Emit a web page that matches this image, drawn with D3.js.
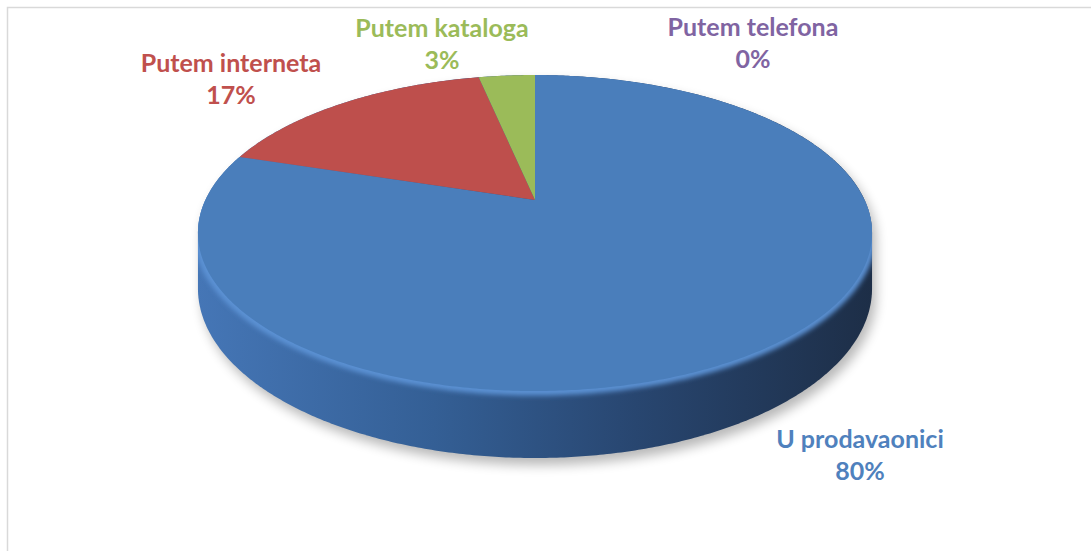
<!DOCTYPE html>
<html><head><meta charset="utf-8">
<script src="https://cdn.jsdelivr.net/npm/d3@7"></script>
<style>body{margin:0;background:#fff}svg{display:block}</style>
</head><body>
<svg id="chart" width="1091" height="551"></svg>
<script>
// ---- data ----
const categories = ["U prodavaonici", "Putem interneta", "Putem kataloga", "Putem telefona"];
const values = [79.9, 16.8, 3.3, 0];
const sliceColors = ["#4a7ebb", "#be4f4c", "#9bbb59", "#8064a2"];
const labelColors = ["#4f81bd", "#c0504d", "#9bbb59", "#8064a2"];

// ---- layout ----
const W = 1091, H = 551;
const labelAnchors = [[860, 448], [231, 72], [442, 37], [753, 36]];
const lineGap = 32;

const svg = d3.select("#chart");
const defs = svg.append("defs");

svg.append("rect").attr("x", 7.5).attr("y", 7.5).attr("width", W + 20).attr("height", H + 20)
  .attr("fill", "#fff").attr("stroke", "#d9d9d9").attr("stroke-width", 1.5);

const cx = 535, cy = 200, ax = 329.6, by = 151.1, k = 0.209, depth = 53;
function proj(angle, drop = 0) {
  const u = Math.sin(angle), v = -Math.cos(angle);
  const s = 1 / (1 - k * v);
  return [cx + ax * u * s, cy + (by * v + drop) * s];
}

const data = categories.map((c, i) => ({ name: c, v: values[i], color: sliceColors[i], lc: labelColors[i] }));
const total = d3.sum(values);
const arcs = d3.pie().sort(null).value(d => d.v)(data);

// filters
const fShadow = defs.append("filter").attr("id", "shadow").attr("x", "-20%").attr("y", "-20%").attr("width", "140%").attr("height", "150%");
fShadow.append("feGaussianBlur").attr("stdDeviation", 6);
const fBevel = defs.append("filter").attr("id", "bevel").attr("x", "-10%").attr("y", "-10%").attr("width", "120%").attr("height", "130%");
fBevel.append("feGaussianBlur").attr("stdDeviation", 2.5);

const grad = defs.append("linearGradient").attr("id", "sideGrad").attr("gradientUnits", "userSpaceOnUse")
  .attr("x1", 198).attr("x2", 872).attr("y1", 0).attr("y2", 0);
[["0%", "#4576b6"], ["35%", "#345f95"], ["65%", "#284670"], ["100%", "#1d2e47"]].forEach(([o, c]) =>
  grad.append("stop").attr("offset", o).attr("stop-color", c));

// silhouette (hull of top and bottom rims)
const rim = [];
for (let i = 0; i < 720; i++) {
  const a = i / 720 * 2 * Math.PI;
  rim.push(proj(a, 0)); rim.push(proj(a, depth));
}
const hull = d3.polygonHull(rim);
const line = d3.line();
const hullD = line(hull) + "Z";

defs.append("clipPath").attr("id", "hullClip").append("path").attr("d", hullD);

svg.append("path").attr("d", hullD)
  .attr("transform", "translate(4,7)")
  .attr("fill", "#000").attr("opacity", 0.28).attr("filter", "url(#shadow)");

svg.append("path").attr("d", hullD).attr("fill", "url(#sideGrad)");

// bevel light along near rim
const nearRim = d3.range(0, 361).map(i => proj(Math.PI * 0.5 + i / 360 * Math.PI, 0));
svg.append("g").attr("clip-path", "url(#hullClip)")
  .append("path").attr("d", line(nearRim)).attr("fill", "none")
  .attr("stroke", "#5b92d4").attr("stroke-width", 9).attr("filter", "url(#bevel)");

// top face slices
svg.append("g").selectAll("path").data(arcs.filter(d => d.endAngle > d.startAngle)).join("path")
  .attr("d", d => {
    const n = Math.max(2, Math.ceil((d.endAngle - d.startAngle) / 0.01));
    const pts = [[cx, cy]];
    for (let i = 0; i <= n; i++) pts.push(proj(d.startAngle + (d.endAngle - d.startAngle) * i / n, 0));
    return line(pts) + "Z";
  })
  .attr("fill", d => d.data.color);

// labels
const fmt = d3.format(".0%");
const lab = svg.append("g").attr("font-family", "Lato, 'Open Sans', sans-serif").attr("font-weight", "bold")
  .attr("font-size", 25).attr("text-anchor", "middle");
arcs.forEach((d, i) => {
  const t = lab.append("text").attr("fill", d.data.lc);
  t.append("tspan").attr("x", labelAnchors[i][0]).attr("y", labelAnchors[i][1]).text(d.data.name);
  t.append("tspan").attr("x", labelAnchors[i][0]).attr("y", labelAnchors[i][1] + lineGap).text(fmt(d.data.v / total));
});
</script>
</body></html>
